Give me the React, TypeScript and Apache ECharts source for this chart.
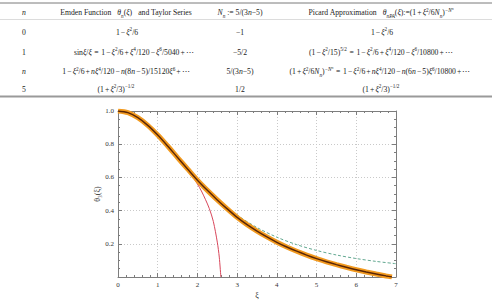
import React, { useEffect, useRef } from "react";
import * as echarts from "echarts";

const FONT = '"Liberation Serif", "DejaVu Serif", serif';

// Lane–Emden solution θ3(ξ)
const xiMain = [0, 0.25, 0.5, 0.75, 1.0, 1.25, 1.5, 1.75, 2.0, 2.25, 2.5, 2.75, 3.0, 3.25, 3.5, 3.75, 4.0, 4.25, 4.5, 4.75, 5.0, 5.25, 5.5, 5.75, 6.0, 6.25, 6.5, 6.75, 6.897];
const thetaMain = [1.0, 0.9897, 0.9598, 0.9135, 0.855, 0.789, 0.7198, 0.6508, 0.5829, 0.5219, 0.4645, 0.4105, 0.3592, 0.3152, 0.2767, 0.2417, 0.2093, 0.1808, 0.1553, 0.1321, 0.1108, 0.0917, 0.0745, 0.0586, 0.0437, 0.0304, 0.0182, 0.0064, 0.0];

// truncated Taylor series
const xiTaylor = [0, 0.25, 0.5, 0.75, 1.0, 1.25, 1.5, 1.75, 1.9, 2.0, 2.1, 2.2, 2.3, 2.4, 2.5, 2.55, 2.59];
const thetaTaylor = [1.0, 0.9897, 0.9598, 0.9135, 0.855, 0.789, 0.716, 0.643, 0.596, 0.56, 0.518, 0.468, 0.412, 0.335, 0.21, 0.12, 0.0];

// Picard approximation
const xiPicard = [0, 0.5, 1.0, 1.5, 2.0, 2.5, 3.0, 3.5, 4.0, 4.5, 5.0, 5.5, 6.0, 6.5, 7.0];
const thetaPicard = [1.0, 0.9598, 0.8552, 0.7204, 0.5861, 0.4687, 0.3732, 0.2981, 0.2399, 0.1949, 0.1599, 0.1326, 0.1111, 0.0939, 0.0801];

const xTicks = [0, 1, 2, 3, 4, 5, 6, 7];
const yTicks = [0.2, 0.4, 0.6, 0.8, 1.0];

// table contents (rich-text markup)
const colCenters = [24, 126, 240, 381];
const rowYs = [12.5, 32, 52, 71.5, 89];
const headerCells = [
  "{i|n}",
  "Emden Function{g|}{i|θ}{b|n}({i|ξ}){g|}and Taylor Series",
  "{i|N}{b|n} := 5/(3{i|n}−5)",
  "Picard Approximation{g|}{i|θ}{b|nPA}({i|ξ}):=(1{o|+}{i|ξ}{p|2}/6{i|N}{b|n}){pi|−N}{ps|n}",
];
const nColumn = ["0", "1", "{i|n}", "5"];
const emdenColumn = [
  "1−{i|ξ}{p|2}/6",
  "sin{i|ξ}/{i|ξ} = 1−{i|ξ}{p|2}/6+{i|ξ}{p|4}/120−{i|ξ}{p|6}/5040+⋯",
  "1−{i|ξ}{p|2}/6+{i|nξ}{p|4}/120−{i|n}(8{i|n}−5)/15120{i|ξ}{p|6}+⋯",
  "(1+{i|ξ}{p|2}/3){p|−1/2}",
];
const emdenCenters = [127, 134, 126, 116];
const nnColumn = ["−1", "−5/2", "5/(3{i|n}−5)", "1/2"];
const picardColumn = [
  "1−{i|ξ}{p|2}/6",
  "(1−{i|ξ}{p|2}/15){p|5/2} = 1−{i|ξ}{p|2}/6+{i|ξ}{p|4}/120−{i|ξ}{p|6}/10800+⋯",
  "(1+{i|ξ}{p|2}/6{i|N}{b|n}){pi|−N}{ps|n} = 1−{i|ξ}{p|2}/6+{i|nξ}{p|4}/120−{i|n}(6{i|n}−5){i|ξ}{p|6}/10800+⋯",
  "(1+{i|ξ}{p|2}/3){p|−1/2}",
];
const picardCenters = [382, 381, 380, 381];

const FS = 7.7;
const SUP = 5.2;
const rich = {
  o: { fontFamily: FONT, fontSize: FS, lineHeight: 11, padding: [0, 1.1, 0, 1.1] },
  e: { fontFamily: FONT, fontSize: FS, lineHeight: 11, padding: [0, 2.6, 0, 2.6] },
  g: { width: 6, lineHeight: 11 },
  i: { fontFamily: FONT, fontSize: FS, fontStyle: "italic", lineHeight: 11 },
  p: { fontFamily: FONT, fontSize: SUP, verticalAlign: "top", lineHeight: 5 },
  pi: { fontFamily: FONT, fontSize: SUP, fontStyle: "italic", verticalAlign: "top", lineHeight: 5 },
  ps: { fontFamily: FONT, fontSize: 3.8, fontStyle: "italic", verticalAlign: "top", lineHeight: 8 },
  b: { fontFamily: FONT, fontSize: SUP, fontStyle: "italic", verticalAlign: "bottom", lineHeight: 5.5 },
};

// give binary operators a little room on both sides, as in typeset math
function spaced(markup: string): string {
  return markup
    .split(/(\{[^}]*\})/)
    .map((part) =>
      part.startsWith("{")
        ? part
        : part
            .replace(/ = /g, "=")
            .replace(/[+−=]/g, (op) => (op === "=" ? "{e|=}" : `{o|${op}}`))
    )
    .join("");
}

function cell(text: string, x: number, y: number) {
  return {
    type: "text",
    x,
    y,
    silent: true,
    style: {
      text,
      rich,
      fontFamily: FONT,
      fontSize: FS,
      lineHeight: 11,
      fill: "#222",
      align: "center",
      verticalAlign: "middle",
    },
  };
}

function hline(y: number, width: number, color: string) {
  return {
    type: "line",
    silent: true,
    shape: { x1: 0, y1: y, x2: 492, y2: y },
    style: { stroke: color, lineWidth: width },
  };
}

export default function App() {
  const ref = useRef<HTMLDivElement>(null);

  useEffect(() => {
    if (!ref.current) return;
    const chart = echarts.init(ref.current, null, { renderer: "svg" });

    const table: any[] = [
      hline(3, 1, "#7a7a7a"),
      hline(19.5, 0.6, "#c4c4c4"),
      hline(96.5, 2, "#9a9a9a"),
    ];
    headerCells.forEach((t, c) => table.push(cell(t, colCenters[c], rowYs[0])));
    for (let r = 0; r < 4; r++) {
      const y = rowYs[r + 1];
      table.push(cell(nColumn[r], colCenters[0], y));
      table.push(cell(spaced(emdenColumn[r]), emdenCenters[r], y));
      table.push(cell(nnColumn[r], colCenters[2], y));
      table.push(cell(spaced(picardColumn[r]), picardCenters[r], y));
    }

    const frameColor = "#7d7d7d";
    const baseAxis = (labels: boolean) => ({
      type: "value" as const,
      axisLine: { show: true, onZero: false, lineStyle: { color: frameColor, width: 1 } },
      axisTick: { show: true, inside: true, length: 4, lineStyle: { color: frameColor } },
      minorTick: { show: true, length: 2, lineStyle: { color: frameColor } },
      axisLabel: { show: labels, color: "#333", fontSize: 7, fontFamily: FONT },
    });

    const option: any = {
      animation: false,
      backgroundColor: "#ffffff",
      textStyle: { fontFamily: FONT },
      graphic: table,
      grid: { left: 118, right: 96, top: 111, bottom: 19 },
      xAxis: [
        {
          ...baseAxis(true),
          position: "bottom",
          min: xTicks[0],
          max: xTicks[xTicks.length - 1],
          interval: 1,
          minorTick: { show: true, splitNumber: 5, length: 2, lineStyle: { color: frameColor } },
          axisLabel: { show: true, color: "#333", fontSize: 7, fontFamily: FONT, margin: 4 },
          splitLine: { show: true, lineStyle: { color: "#c9c9c9", width: 1, type: [1, 2] } },
          name: "ξ",
          nameLocation: "middle",
          nameGap: 14,
          nameMoveOverlap: false,
          nameTextStyle: { color: "#333", fontSize: 8, fontFamily: FONT },
        },
        {
          ...baseAxis(false),
          position: "top",
          min: xTicks[0],
          max: xTicks[xTicks.length - 1],
          interval: 1,
          minorTick: { show: true, splitNumber: 5, length: 2, lineStyle: { color: frameColor } },
          splitLine: { show: false },
        },
      ],
      yAxis: [
        {
          ...baseAxis(true),
          position: "left",
          min: 0,
          max: yTicks[yTicks.length - 1],
          interval: 0.2,
          minorTick: { show: true, splitNumber: 4, length: 2, lineStyle: { color: frameColor } },
          axisLabel: {
            show: true,
            color: "#333",
            fontSize: 7,
            fontFamily: FONT,
            margin: 4,
            formatter: (v: number) => (yTicks.some((t) => Math.abs(t - v) < 1e-9) ? v.toFixed(1) : ""),
          },
          splitLine: { show: true, lineStyle: { color: "#c9c9c9", width: 1, type: [1, 2] } },
          name: "θ₃(ξ)",
          nameLocation: "middle",
          nameGap: 17,
          nameRotate: 90,
          nameMoveOverlap: false,
          nameTextStyle: { color: "#333", fontSize: 8, fontFamily: FONT },
        },
        {
          ...baseAxis(false),
          position: "right",
          min: 0,
          max: yTicks[yTicks.length - 1],
          interval: 0.2,
          minorTick: { show: true, splitNumber: 4, length: 2, lineStyle: { color: frameColor } },
          splitLine: { show: false },
        },
      ],
      series: [
        {
          name: "Picard",
          type: "line",
          data: xiPicard.map((x, i) => [x, thetaPicard[i]]),
          smooth: 0.3,
          symbol: "none",
          lineStyle: { color: "#63a891", width: 1, type: [3, 2] },
          z: 2,
        },
        {
          name: "Taylor",
          type: "line",
          data: xiTaylor.map((x, i) => [x, thetaTaylor[i]]),
          smooth: 0.3,
          symbol: "none",
          lineStyle: { color: "#d8475b", width: 1 },
          z: 3,
        },
        {
          name: "Emden",
          type: "line",
          data: xiMain.map((x, i) => [x, thetaMain[i]]),
          smooth: 0.3,
          symbol: "none",
          lineStyle: { color: "#f29a1f", width: 5 },
          z: 4,
        },
        {
          name: "EmdenCore",
          type: "line",
          data: xiMain.map((x, i) => [x, thetaMain[i]]),
          smooth: 0.3,
          symbol: "none",
          lineStyle: { color: "#5a2606", width: 1.4 },
          z: 5,
        },
      ],
    };

    chart.setOption(option);
    return () => chart.dispose();
  }, []);

  return (
    <div
      ref={ref}
      style={{ position: "absolute", left: 0, top: 0, width: 492, height: 304, background: "#fff" }}
    />
  );
}
